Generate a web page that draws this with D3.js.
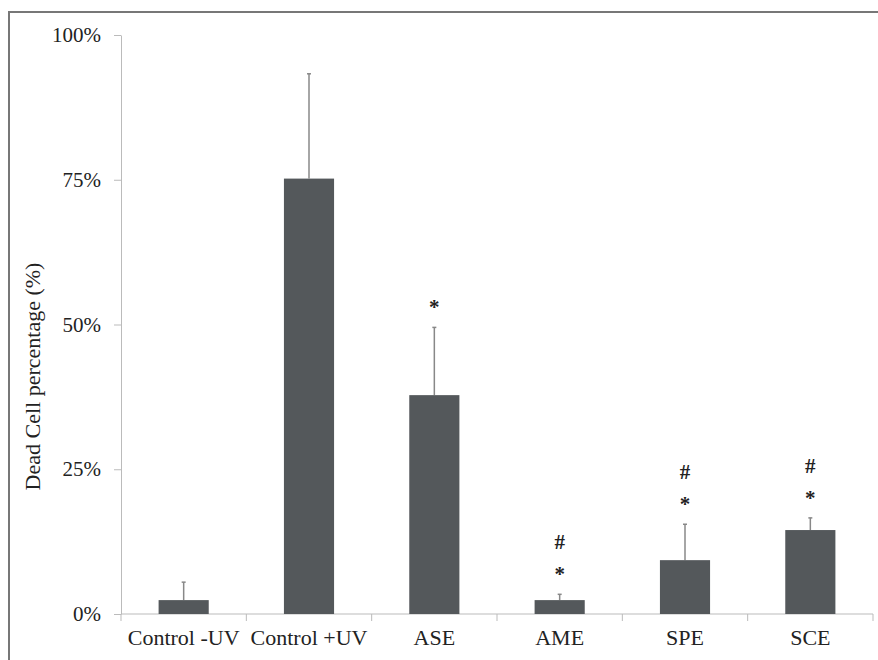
<!DOCTYPE html>
<html>
<head>
<meta charset="utf-8">
<script src="https://cdn.jsdelivr.net/npm/d3@7"></script>
<style>
  body { margin: 0; background: #fff; }
  svg text { font-family: "Liberation Serif", "Times New Roman", Times, Tinos, "Noto Serif", "DejaVu Serif", FreeSerif, serif; fill: #222; }
</style>
</head>
<body>
<div class="canvas"></div>
<script>
const categories = ["Control -UV", "Control +UV", "ASE", "AME", "SPE", "SCE"];
const means = [0.024, 0.752, 0.378, 0.024, 0.093, 0.145];
const errors = [0.031, 0.181, 0.117, 0.010, 0.062, 0.021];
const marks = [[], [], ["*"], ["*", "#"], ["*", "#"], ["*", "#"]];
const yTicks = [0, 0.25, 0.5, 0.75, 1];

const dims = { w: 878, h: 660 };
const margin = { top: 35, left: 121, right: 5, bottom: 46 };

const svg = d3
  .select(".canvas")
  .append("svg")
  .attr("width", dims.w)
  .attr("height", dims.h);

// frame round the figure
svg
  .append("path")
  .attr("d", `M9,${dims.h} V12 H${dims.w}`)
  .attr("fill", "none")
  .attr("stroke", "#777")
  .attr("stroke-width", 2);

const x = d3
  .scaleBand()
  .domain(categories)
  .range([margin.left, dims.w - margin.right])
  .paddingInner(0.6)
  .paddingOuter(0.3);

const y = d3
  .scaleLinear()
  .domain([0, 1])
  .range([dims.h - margin.bottom, margin.top]);

const yAxis = svg
  .append("g")
  .attr("transform", `translate(${margin.left}, 0)`)
  .call(
    d3.axisLeft(y)
      .tickValues(yTicks)
      .tickFormat(d3.format(".0%"))
      .tickSizeInner(7)
      .tickSizeOuter(0)
      .tickPadding(13)
  )
  .attr("font-family", null);
yAxis.selectAll("path, line").attr("stroke", "#bbb");
yAxis.selectAll("text").attr("font-size", 21).attr("fill", "#222");

// category axis with ticks between bars
const step = x.step();
const xAxis = svg.append("g").attr("transform", `translate(0, ${y(0)})`);
xAxis
  .append("line")
  .attr("x1", margin.left)
  .attr("x2", dims.w - margin.right)
  .attr("stroke", "#bbb");
xAxis
  .selectAll("line.tick")
  .data(d3.range(categories.length + 1))
  .enter()
  .append("line")
  .attr("class", "tick")
  .attr("x1", i => margin.left + i * step)
  .attr("x2", i => margin.left + i * step)
  .attr("y1", 0)
  .attr("y2", 7)
  .attr("stroke", "#bbb");
xAxis
  .selectAll("text")
  .data(categories)
  .enter()
  .append("text")
  .attr("x", d => x(d) + x.bandwidth() / 2)
  .attr("y", 31)
  .attr("text-anchor", "middle")
  .attr("font-size", 22)
  .text(d => d);

svg
  .append("text")
  .attr("transform", `translate(40, ${(y(0) + y(1)) / 2 + 52}) rotate(-90)`)
  .attr("text-anchor", "middle")
  .attr("font-size", 22)
  .text("Dead Cell percentage (%)");

const rows = categories.map((c, i) => ({ name: c, mean: means[i], err: errors[i], marks: marks[i] }));

const bar = svg.selectAll("g.bar").data(rows).enter().append("g").attr("class", "bar");

bar
  .append("line")
  .attr("x1", d => x(d.name) + x.bandwidth() / 2)
  .attr("x2", d => x(d.name) + x.bandwidth() / 2)
  .attr("y1", d => y(d.mean))
  .attr("y2", d => y(d.mean + d.err))
  .attr("stroke", "#888")
  .attr("stroke-width", 1.5);
bar
  .append("line")
  .attr("x1", d => x(d.name) + x.bandwidth() / 2 - 2)
  .attr("x2", d => x(d.name) + x.bandwidth() / 2 + 2)
  .attr("y1", d => y(d.mean + d.err))
  .attr("y2", d => y(d.mean + d.err))
  .attr("stroke", "#888")
  .attr("stroke-width", 1.5);

bar
  .append("rect")
  .attr("x", d => x(d.name))
  .attr("width", x.bandwidth())
  .attr("y", d => y(d.mean))
  .attr("height", d => y(0) - y(d.mean))
  .attr("fill", "#54585b");

// significance marks: * about 24px above the error bar, # about 52px
bar
  .selectAll("text.mark")
  .data(d => d.marks.map((m, k) => ({ m, k, d })))
  .enter()
  .append("text")
  .attr("class", "mark")
  .attr("x", o => x(o.d.name) + x.bandwidth() / 2)
  .attr("y", o => y(o.d.mean + o.d.err) - (o.m === "*" ? 24 - 11 : 52 - 7))
  .attr("text-anchor", "middle")
  .attr("font-size", 21)
  .attr("font-weight", "bold")
  .text(o => o.m);
</script>
</body>
</html>
